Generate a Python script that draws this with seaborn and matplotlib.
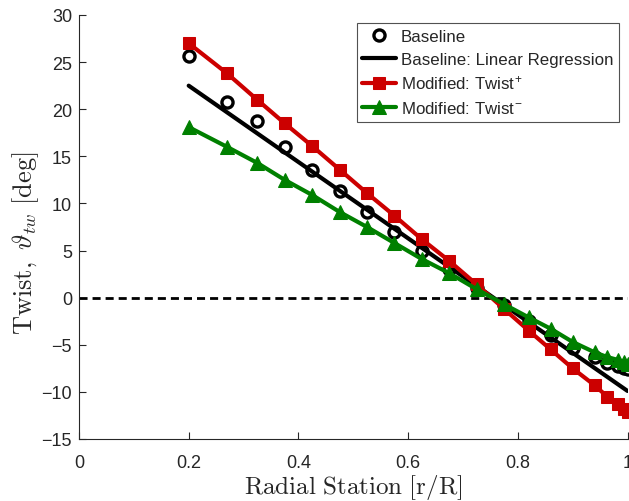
import numpy as np
import pandas as pd
import matplotlib
matplotlib.use("Agg")
import matplotlib.pyplot as plt
import seaborn as sns

# ---- data ----
radial_station = [0.2, 0.27, 0.325, 0.375, 0.425, 0.475, 0.525, 0.575, 0.625, 0.675,
                  0.725, 0.775, 0.82, 0.86, 0.9, 0.94, 0.963, 0.982, 0.993, 1.0]
twist_baseline = [25.6, 20.8, 18.8, 16.0, 13.5, 11.3, 9.1, 7.0, 5.0, 3.0,
                  1.0, -0.8, -2.5, -4.0, -5.3, -6.3, -6.9, -7.3, -7.5, -7.6]
twist_plus = [27.0, 23.8, 21.0, 18.5, 16.1, 13.6, 11.1, 8.7, 6.2, 3.9,
              1.4, -1.2, -3.5, -5.5, -7.5, -9.3, -10.5, -11.3, -11.8, -12.1]
twist_minus = [18.1, 16.0, 14.3, 12.5, 10.9, 9.1, 7.5, 5.8, 4.1, 2.6,
               0.9, -0.7, -2.1, -3.3, -4.7, -5.8, -6.3, -6.6, -6.8, -7.0]
regression_x = [0.2, 1.0]
regression_y = [22.5, -9.9]
zero_x = [0.0, 1.0]
zero_y = [0.0, 0.0]

labels = ["Baseline", "Baseline: Linear Regression",
          r"Modified: Twist$^{\mathregular{+}}$", r"Modified: Twist$^{\mathregular{-}}$"]
x_ticks = [0, 0.2, 0.4, 0.6, 0.8, 1]
x_ticklabels = ["0", "0.2", "0.4", "0.6", "0.8", "1"]
y_ticks = list(range(-15, 31, 5))

sns.set_style("white")
plt.rcParams["font.family"] = ["Liberation Sans", "DejaVu Sans"]
plt.rcParams["mathtext.fontset"] = "cm"

fig = plt.figure(figsize=(6.29, 5.02), dpi=100)
ax = fig.add_axes([79 / 629, 1 - 440 / 502, 548.5 / 629, (440 - 16) / 502])

df = pd.DataFrame({"r": radial_station, "base": twist_baseline,
                   "plus": twist_plus, "minus": twist_minus})

# dashed zero line
sns.lineplot(x=zero_x, y=zero_y, ax=ax, color="black", linewidth=2,
             dashes=False, linestyle=(0, (2.9, 1.8)), zorder=1)

sns.lineplot(data=df, x="r", y="base", ax=ax, sort=False, linestyle="none",
             marker="o", markersize=8, markerfacecolor="white",
             markeredgecolor="black", markeredgewidth=2.4, color="black",
             label=labels[0], zorder=3)
sns.lineplot(x=regression_x, y=regression_y, ax=ax, color="black", linewidth=3,
             label=labels[1], zorder=3)
sns.lineplot(data=df, x="r", y="plus", ax=ax, sort=False, color="#CC0000",
             linewidth=3, marker="s", markersize=8, markeredgecolor="#CC0000",
             label=labels[2], zorder=4)
sns.lineplot(data=df, x="r", y="minus", ax=ax, sort=False, color="#008000",
             linewidth=3, marker="^", markersize=10, markeredgecolor="#008000",
             label=labels[3], zorder=5)

ax.set_xlim(0, 1)
ax.set_ylim(-15, 30)
ax.set_xticks(x_ticks)
ax.set_xticklabels(x_ticklabels)
ax.set_yticks(y_ticks)
ax.tick_params(bottom=True, left=True, direction="in", length=5, width=0.8,
               colors="#262626", labelsize=13, labelcolor="#262626")
ax.tick_params(axis="x", pad=11)
ax.tick_params(axis="y", pad=5)
for side in ["top", "right"]:
    ax.spines[side].set_visible(False)
for side in ["left", "bottom"]:
    ax.spines[side].set_color("#262626")
    ax.spines[side].set_linewidth(0.8)

ax.set_xlabel(r"$\mathrm{Radial\ Station\ [r/R]}$", fontsize=18, color="#262626")
ax.xaxis.set_label_coords(0.5, -(473 - 440) / 424)
ax.set_ylabel(r"$\mathrm{Twist,}\ \vartheta_{tw}\ \mathrm{[deg]}$", fontsize=19,
              color="#262626")
ax.yaxis.set_label_coords(-(79 - 41) / 548.5, (440 - 243) / 424)

leg = ax.legend(loc="upper right", bbox_to_anchor=(619 / 629, 1 - 24 / 502),
                bbox_transform=fig.transFigure, frameon=True, fancybox=False,
                fontsize=12.2, handlelength=2.0, handletextpad=0.25,
                borderpad=0.35, labelspacing=0.45, borderaxespad=0)
leg.get_frame().set_edgecolor("#262626")
leg.get_frame().set_linewidth(0.8)

fig.savefig("out.png", dpi=100)
